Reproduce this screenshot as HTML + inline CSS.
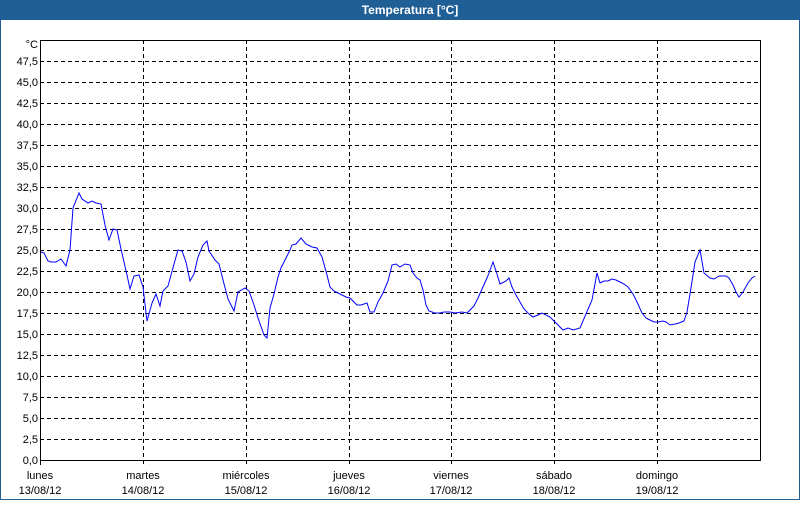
<!DOCTYPE html>
<html><head><meta charset="utf-8"><style>
html,body{margin:0;padding:0;background:#fff;}
body{width:800px;height:500px;overflow:hidden;font-family:"Liberation Sans",sans-serif;}
</style></head><body>
<svg width="800" height="500" xmlns="http://www.w3.org/2000/svg" font-family="Liberation Sans, sans-serif">
<rect x="0" y="0" width="800" height="500" fill="#fff"/>
<rect x="0.5" y="0.5" width="799" height="499" fill="none" stroke="#1f5f96"/>
<rect x="0" y="0" width="800" height="20" fill="#1f5f96"/>
<text x="410" y="14" fill="#fff" font-size="12" font-weight="bold" text-anchor="middle">Temperatura [°C]</text>
<g stroke="#000" stroke-width="1" stroke-dasharray="4,3" fill="none">
<path d="M40 439.5H761M40 418.5H761M40 397.5H761M40 376.5H761M40 355.5H761M40 334.5H761M40 313.5H761M40 292.5H761M40 271.5H761M40 250.5H761M40 229.5H761M40 208.5H761M40 187.5H761M40 166.5H761M40 145.5H761M40 124.5H761M40 103.5H761M40 82.5H761M40 61.5H761"/>
<path d="M143.5 40V465M246.5 40V465M349.5 40V465M451.5 40V465M554.5 40V465M657.5 40V465"/>
</g>
<rect x="40.5" y="40.5" width="720" height="420" fill="none" stroke="#000"/>
<path d="M40.5 460.5V465" stroke="#000"/>
<g font-size="11" fill="#000" text-anchor="end">
<text x="38" y="48">°C</text>
<text x="38" y="65">47,5</text><text x="38" y="86">45,0</text><text x="38" y="107">42,5</text><text x="38" y="128">40,0</text>
<text x="38" y="149">37,5</text><text x="38" y="170">35,0</text><text x="38" y="191">32,5</text><text x="38" y="212">30,0</text>
<text x="38" y="233">27,5</text><text x="38" y="254">25,0</text><text x="38" y="275">22,5</text><text x="38" y="296">20,0</text>
<text x="38" y="317">17,5</text><text x="38" y="338">15,0</text><text x="38" y="359">12,5</text><text x="38" y="380">10,0</text>
<text x="38" y="401">7,5</text><text x="38" y="422">5,0</text><text x="38" y="443">2,5</text><text x="38" y="464">0,0</text>
</g>
<g font-size="11" fill="#000" text-anchor="middle">
<text x="40" y="479">lunes</text><text x="40" y="494">13/08/12</text>
<text x="143" y="479">martes</text><text x="143" y="494">14/08/12</text>
<text x="246" y="479">miércoles</text><text x="246" y="494">15/08/12</text>
<text x="349" y="479">jueves</text><text x="349" y="494">16/08/12</text>
<text x="451" y="479">viernes</text><text x="451" y="494">17/08/12</text>
<text x="554" y="479">sábado</text><text x="554" y="494">18/08/12</text>
<text x="657" y="479">domingo</text><text x="657" y="494">19/08/12</text>
</g>
<polyline fill="none" stroke="#0000ff" stroke-width="1" points="41,252 44,253 48,261 51,262 56,262 61,259 66,266 70,250 73,208 79,193 82,199 88,203 92,201 96,203 101,204 105,225 109,240 113,229 117,230 121,249 127,275 130,289 134,276 139,275 143,287 147,321 152,303 156,294 160,306 163,291 168,286 174,264 178,250 182,251 186,262 190,281 194,274 198,257 203,245 207,241 209,251 215,260 219,264 223,280 228,299 234,311 238,292 245,288 249,291 254,305 258,318 264,335 267,338 270,308 274,294 278,277 281,268 286,258 290,250 292,245 296,244 301,238 306,244 312,247 317,248 322,257 327,275 330,287 334,291 340,294 346,297 350,298 357,305 361,305 367,303 370,312 374,312 378,302 383,293 388,281 392,265 396,264 400,267 405,264 410,265 413,273 417,278 420,280 423,290 426,305 429,311 435,313 440,313 444,312 450,312 455,313 462,312 467,313 470,310 474,306 478,298 482,289 487,278 489,273 493,262 497,274 500,284 506,281 509,278 512,287 516,295 520,302 524,309 529,314 533,317 538,315 542,313 550,317 555,322 563,330 568,328 573,330 580,328 592,300 597,273 600,283 604,281 608,281 612,279 616,280 620,282 624,284 628,287 633,294 637,302 642,313 646,318 650,320 654,322 658,322 663,321 666,322 670,325 675,324 679,323 684,321 687,312 691,288 695,262 700,250 704,273 710,278 714,279 719,276 726,276 729,278 733,285 736,292 739,297 743,292 748,283 752,278 755,276"/>
</svg>
</body></html>
